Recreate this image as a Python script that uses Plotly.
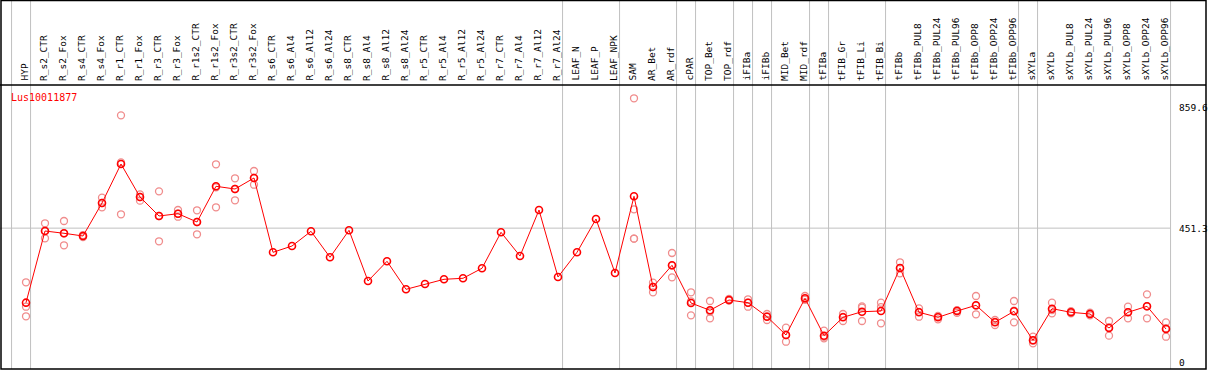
import plotly.graph_objects as go

categories = ["HYP", "R_s2_CTR", "R_s2_Fox", "R_s4_CTR", "R_s4_Fox", "R_r1_CTR", "R_r1_Fox",
              "R_r3_CTR", "R_r3_Fox", "R_r1s2_CTR", "R_r1s2_Fox", "R_r3s2_CTR", "R_r3s2_Fox",
              "R_s6_CTR", "R_s6_Al4", "R_s6_Al12", "R_s6_Al24", "R_s8_CTR", "R_s8_Al4",
              "R_s8_Al12", "R_s8_Al24", "R_r5_CTR", "R_r5_Al4", "R_r5_Al12", "R_r5_Al24",
              "R_r7_CTR", "R_r7_Al4", "R_r7_Al12", "R_r7_Al24", "LEAF_N", "LEAF_P", "LEAF_NPK",
              "SAM", "AR_Bet", "AR_rdf", "cPAR", "TOP_Bet", "TOP_rdf", "iFIBa", "iFIBb",
              "MID_Bet", "MID_rdf", "tFIBa", "tFIB_Gr", "tFIB_Li", "tFIB_Bi", "tFIBb",
              "tFIBb_PUL8", "tFIBb_PUL24", "tFIBb_PUL96", "tFIBb_OPP8", "tFIBb_OPP24",
              "tFIBb_OPP96", "sXYLa", "sXYLb", "sXYLb_PUL8", "sXYLb_PUL24", "sXYLb_PUL96",
              "sXYLb_OPP8", "sXYLb_OPP24", "sXYLb_OPP96"]

mean_values = [200, 441.6, 433.9, 424.8, 536, 667.5, 556.2, 492.2, 499.9, 472, 592.3, 583.2, 620.3,
               369.8, 391, 440.6, 353, 444, 273, 339.5, 245, 263, 278.8, 282.2, 315.9,
               437.2, 357.3, 512.4, 286.5, 369.8, 482.1, 300,
               558.6, 252.8, 326, 198.9, 174.3, 209, 199.9, 152.7, 91, 214.7, 88.7, 150.7,
               169.6, 171.9, 316.9, 167.5, 150.7, 171.9, 191.1, 133.8, 170.9, 73.2, 179.7,
               167.5, 161.8, 114.6, 167.5, 187.8, 111.2]

N = None
rep_a = [268.7, 467.6, 475.3, 428, 553.9, 831.6, 565.3, 575.4, 512.4, 511.4, 666.5, 619.3, 643.9,
         N, N, N, N, N, N, N, N, N, N, N, N, N, N, N, N, N, N, N,
         889, 267.3, 367.5, 235, 205.6, 212.4, 211.4, 161.8, 115.6, 222.5, 105.5, 161.8,
         183, 199.9, 336.1, 181, 155, 175, 222.5, 141.6, 205.6, 85.3, 199.9, 171, 166,
         138.2, 186.4, 228.2, 133.8]
rep_b = [154.1, 417, 393.4, 421.4, 521.5, 497.9, 543.8, 406.9, 489.8, 430.5, 521.5, 545.1, 597.7,
         N, N, N, N, N, N, N, N, N, N, N, N, N, N, N, N, N, N, N,
         415.7, 235, 285.5, 157.4, 147.3, 206.7, 186.4, 141.6, 68.4, 211.4, 79.9, 138.2,
         138.2, 130.5, 299, 152.7, 144, 166, 160.8, 124.7, 133.8, 63, 164.2, 164.2, 157.4,
         88.7, 147.3, 147.3, 85.3]
rep_c = [186.4, 441.6, 433.9, 424.8, 536, 672.9, 556.2, 492.2, 499.9, 472, 589, 583.2, 620.3,
         N, N, N, N, N, N, N, N, N, N, N, N, N, N, N, N, N, N, N,
         514.8, 252.8, 325, 204.3, 170, 209, 200, 154, 91, 210, 85, 152,
         187.6, 185.3, 316, 169, 153, 174, 190, 135, 173, 72, 175, 167, 162,
         117, 168, 188, 114]
rep_d = [N] * 32 + [415.7] + [N] * 28

axis_labels = ["859.6", "451.3", "0"]
axis_values = [859.6, 451.3, 0]
group_ends = [-1, 0, 28, 31, 34, 35, 37, 38, 39, 41, 42, 45, 52, 53, 60]
title_text = "Lus10011877"

W, H = 1209, 370
TOP, BOT = 85, 369
ph = BOT - TOP
FONT = "DejaVu Sans Mono"

fig = go.Figure()

rep_x, rep_y = [], []
for reps in (rep_a, rep_b, rep_c, rep_d):
    for c, v in zip(categories, reps):
        if v is not None:
            rep_x.append(c)
            rep_y.append(v)

fig.add_trace(go.Scatter(
    x=rep_x, y=rep_y, mode="markers",
    marker=dict(symbol="circle-open", size=7, color="#f08c8c", line=dict(width=1.3, color="#f08c8c")),
    hoverinfo="skip", showlegend=False))

fig.add_trace(go.Scatter(
    x=categories, y=mean_values, mode="lines+markers",
    line=dict(color="#ff0000", width=1),
    marker=dict(symbol="circle-open", size=7, color="#ff0000", line=dict(width=1.6, color="#ff0000")),
    showlegend=False))

shapes = []
top_paper = (BOT - 0) / ph
for g in group_ends:
    shapes.append(dict(type="line", xref="x", yref="paper", x0=g + 0.24, x1=g + 0.24,
                       y0=0, y1=top_paper, line=dict(color="#c0c0c0", width=1), layer="below"))
shapes.append(dict(type="line", xref="paper", yref="y", x0=0, x1=1170 / W, y0=451.3, y1=451.3,
                   line=dict(color="#c0c0c0", width=1), layer="below"))
# frame
shapes.append(dict(type="rect", xref="paper", yref="paper", x0=1 / W, x1=1206 / W,
                   y0=0, y1=(BOT - 0.5) / ph, line=dict(color="black", width=1.5)))
shapes.append(dict(type="line", xref="paper", yref="paper", x0=0, x1=1206 / W,
                   y0=1, y1=1, line=dict(color="black", width=1.5)))

annotations = []
for c in categories:
    annotations.append(dict(x=c, xref="x", y=(BOT - 83) / ph, yref="paper", text=c,
                            textangle=-90, showarrow=False, xanchor="center", yanchor="bottom",
                            xshift=-2, font=dict(family=FONT, size=9.5, color="black")))
for t, v in zip(axis_labels, axis_values):
    annotations.append(dict(x=1177 / W, xref="paper", y=v, yref="y", text=t, showarrow=False,
                            xanchor="left", yanchor="middle",
                            font=dict(family=FONT, size=9.5, color="black")))
annotations.append(dict(x=9 / W, xref="paper", y=(BOT - 97) / ph, yref="paper", text=title_text,
                        showarrow=False, xanchor="left", yanchor="middle",
                        font=dict(family=FONT, size=10, color="#ff0000")))

x0 = -26 / 19
fig.update_layout(
    width=W, height=H,
    margin=dict(l=0, r=0, t=TOP, b=H - BOT, pad=0),
    paper_bgcolor="white", plot_bgcolor="white",
    xaxis=dict(type="category", categoryorder="array", categoryarray=categories,
               range=[x0, x0 + W / 19], showticklabels=False, showgrid=False, zeroline=False,
               showline=False, ticks=""),
    yaxis=dict(range=[(362 - BOT) / 0.29664, (362 - TOP) / 0.29664], showticklabels=False,
               showgrid=False, zeroline=False, showline=False, ticks=""),
    shapes=shapes, annotations=annotations,
)

fig.write_html("out.html", config={"displayModeBar": False},
               post_script="document.body.style.margin='0';document.body.style.overflow='hidden';")
